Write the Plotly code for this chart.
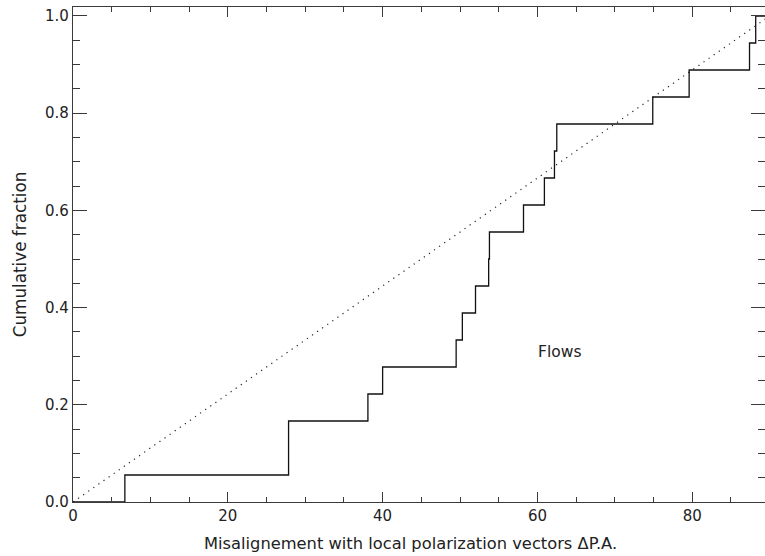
import numpy as np
import plotly.graph_objects as go

# Misalignment angles (deg), sorted
angles = [6.7, 27.85, 27.85, 38.1, 40.0, 49.5, 50.3, 52.0, 53.7, 53.8,
          58.2, 60.9, 62.2, 62.5, 74.9, 79.6, 87.4, 88.2]
x_max = 89.4
y_max = 1.0185
uniform_x = [0, 90]
uniform_y = [0, 1]
x_ticks = [0, 20, 40, 60, 80]
y_ticks = [0.0, 0.2, 0.4, 0.6, 0.8, 1.0]

n = len(angles)
frac = list(np.arange(1, n + 1) / n)
step_x = [0] + angles + [x_max]
step_y = [0] + frac + [1.0]

font_fam = "DejaVu Sans"
axcol = "#3a3a3a"

fig = go.Figure()
fig.add_trace(go.Scatter(x=uniform_x, y=uniform_y, mode="lines",
                         line=dict(color="#222", width=1.2, dash="1.2px,5px"),
                         hoverinfo="skip", showlegend=False))
fig.add_trace(go.Scatter(x=step_x, y=step_y, mode="lines", line_shape="hv",
                         line=dict(color="#111", width=1.3),
                         showlegend=False))

fig.add_annotation(x=62.8, y=0.309, text="Flows", showarrow=False,
                   xanchor="center", yanchor="middle",
                   font=dict(family=font_fam, size=15.5, color="#222"))

# x-axis title placed as annotation (centred slightly left of plot centre, as in the reference)
fig.add_annotation(xref="paper", yref="paper", x=0.487, y=-0.083,
                   text="Misalignement with local polarization vectors \u0394P.A.",
                   showarrow=False, xanchor="center", yanchor="middle",
                   font=dict(family=font_fam, size=16.3, color="#222"))

fig.update_xaxes(range=[0, x_max], tickvals=x_ticks, ticktext=[str(v) for v in x_ticks],
                 showline=True, linecolor=axcol, linewidth=1.3, mirror="ticks",
                 ticks="inside", ticklen=10, tickcolor=axcol, tickwidth=1,
                 minor=dict(dtick=5, tick0=0, ticks="inside", ticklen=5, tickcolor=axcol),
                 showgrid=False, zeroline=False,
                 tickfont=dict(family=font_fam, size=15, color="#222"))
fig.update_yaxes(range=[0, y_max], tickvals=y_ticks, ticktext=[f"{v:.1f}" for v in y_ticks],
                 showline=True, linecolor=axcol, linewidth=1.3, mirror="ticks",
                 ticks="inside", ticklen=14, tickcolor=axcol, tickwidth=1,
                 minor=dict(dtick=0.05, tick0=0, ticks="inside", ticklen=7, tickcolor=axcol),
                 showgrid=False, zeroline=False,
                 tickfont=dict(family=font_fam, size=15, color="#222"),
                 title=dict(text="Cumulative fraction",
                            font=dict(family=font_fam, size=16.8, color="#222"), standoff=14))

fig.update_layout(width=765, height=556, margin=dict(l=73, r=0, t=7, b=54),
                  plot_bgcolor="white", paper_bgcolor="white")
fig.write_html("out.html")
